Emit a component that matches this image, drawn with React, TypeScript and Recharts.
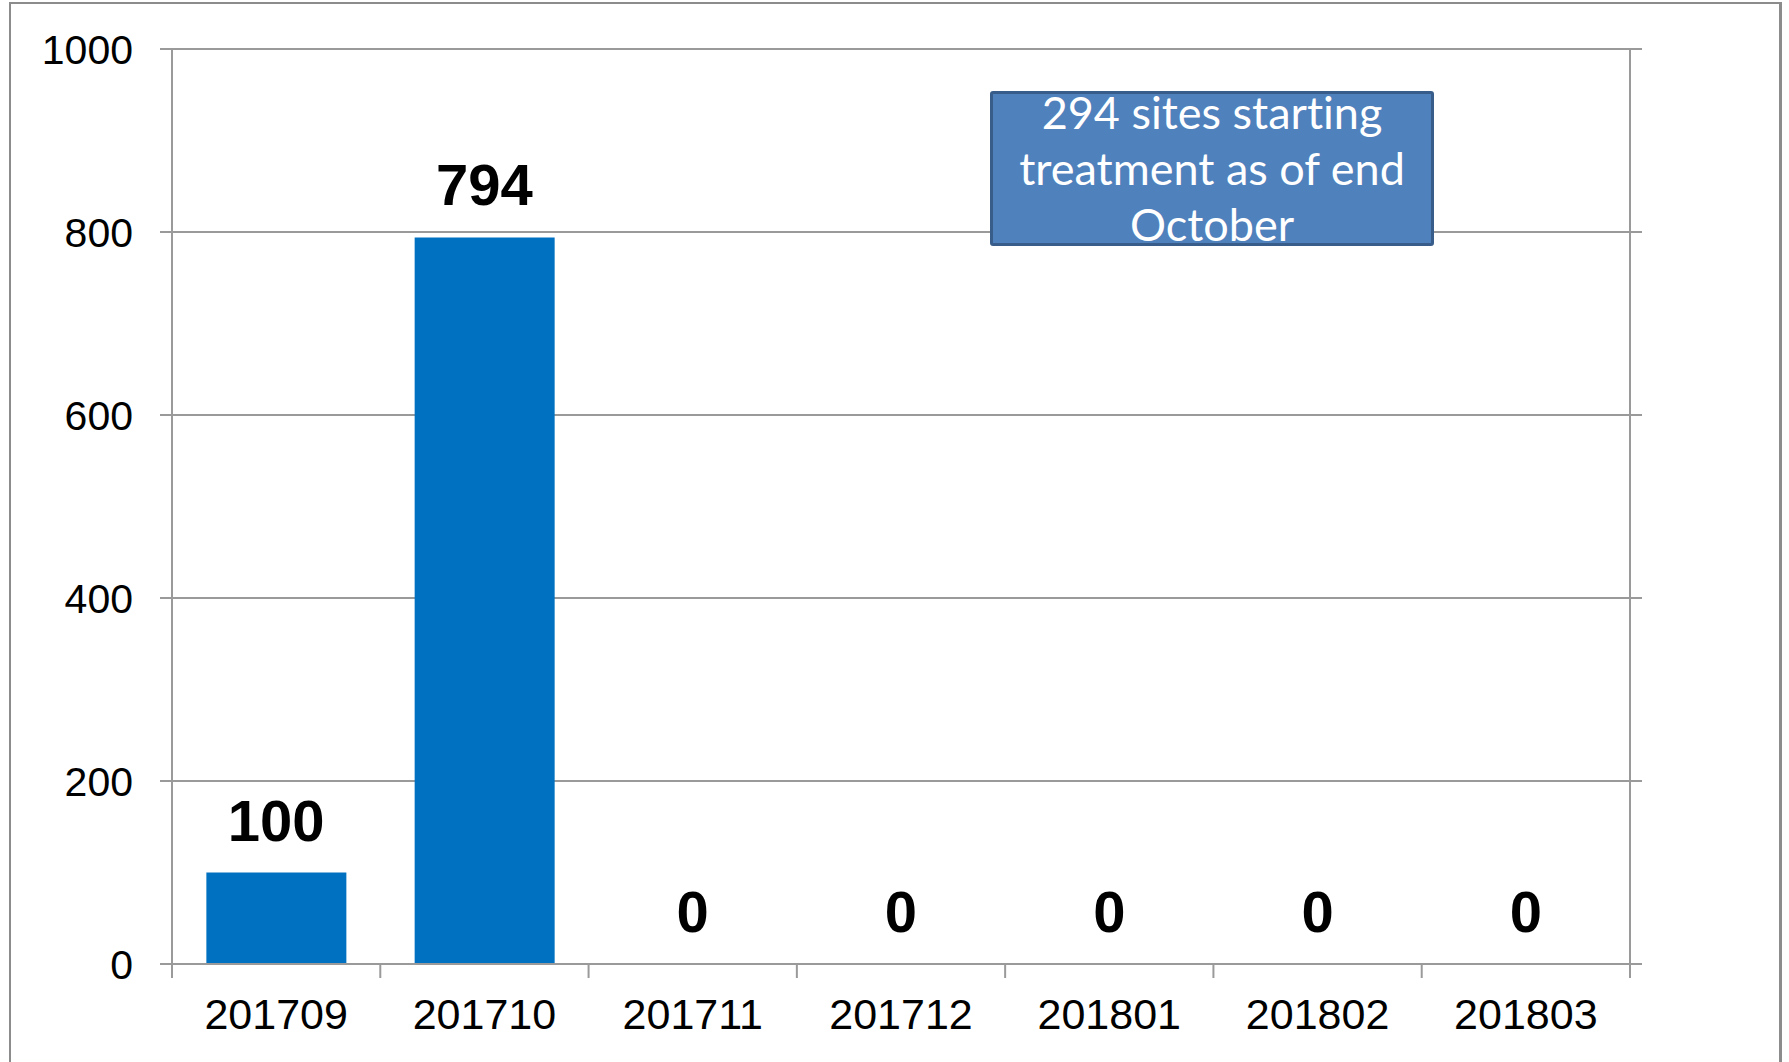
import { Bar, CartesianGrid, ComposedChart, LabelList, Line, XAxis, YAxis } from "recharts";

const months = ["201709", "201710", "201711", "201712", "201801", "201802", "201803"];
const sites = [100, 794, 0, 0, 0, 0, 0];
const yTicks = [0, 200, 400, 600, 800, 1000];
const note = ["294 sites starting", "treatment as of end", "October"];

const data = months.map((month, i) => ({ month, sites: sites[i] }));

const grey = "#9a9a9a";
const axisFont = "'Liberation Sans', Arial, sans-serif";

// value labels sit on an invisible line so the zero months get one too
function ValueLabel(props: any) {
  const { x, y, value } = props;
  return (
    <text
      x={x}
      y={y - 32}
      textAnchor="middle"
      fontFamily={axisFont}
      fontWeight="bold"
      fontSize={58}
      fill="#000"
    >
      {value}
    </text>
  );
}

// month label plus the tick marks on the category boundaries (Excel style)
function MonthTick(props: any) {
  const { x, y, payload, index, visibleTicksCount, width } = props;
  const band = payload && payload.offset ? payload.offset * 2 : width / visibleTicksCount;
  const left = x - band / 2;
  const right = x + band / 2;
  return (
    <g>
      <line x1={left} x2={left} y1={y - 34} y2={y - 20} stroke={grey} strokeWidth={2} />
      {index === visibleTicksCount - 1 && (
        <line x1={right} x2={right} y1={y - 34} y2={y - 20} stroke={grey} strokeWidth={2} />
      )}
      <text
        x={x}
        y={y}
        dy={31}
        textAnchor="middle"
        fontFamily={axisFont}
        fontSize={43}
        fill="#000"
      >
        {payload.value}
      </text>
    </g>
  );
}

const EmptyTick = () => <g />;

export default function App() {
  return (
    <div
      style={{
        position: "absolute",
        left: 0,
        top: 0,
        width: 1789,
        height: 1062,
        background: "#fff",
        overflow: "hidden",
      }}
    >
      <div
        style={{
          position: "absolute",
          left: 9,
          top: 2,
          width: 1773,
          height: 1100,
          borderLeft: "2px solid #8c8c8c",
          borderTop: "2px solid #8c8c8c",
          borderRight: "3px solid #8c8c8c",
          boxSizing: "border-box",
        }}
      />
      <div style={{ position: "absolute", left: 0, top: 0 }}>
        <ComposedChart
          width={1789}
          height={1062}
          data={data}
          margin={{ top: 49, right: 147, bottom: 0, left: 12 }}
          barCategoryGap="16.5%"
        >
          <CartesianGrid horizontal vertical={false} stroke={grey} strokeWidth={2} />
          <XAxis
            dataKey="month"
            height={98}
            axisLine={{ stroke: grey, strokeWidth: 2 }}
            tickLine={false}
            tickSize={0}
            tickMargin={34}
            interval={0}
            tick={MonthTick}
          />
          <YAxis
            domain={[0, 1000]}
            ticks={yTicks}
            width={160}
            tickSize={12}
            tickMargin={27}
            axisLine={{ stroke: grey, strokeWidth: 2 }}
            tickLine={{ stroke: grey, strokeWidth: 2 }}
            tick={{ fontFamily: axisFont, fontSize: 41, fill: "#000" }}
          />
          <YAxis
            yAxisId="right"
            orientation="right"
            domain={[0, 1000]}
            ticks={yTicks}
            width={12}
            tickSize={12}
            interval={0}
            axisLine={{ stroke: grey, strokeWidth: 2 }}
            tickLine={{ stroke: grey, strokeWidth: 2 }}
            tick={EmptyTick}
          />
          <Bar dataKey="sites" fill="#0070C0" isAnimationActive={false} />
          <Line
            yAxisId="right"
            dataKey="sites"
            stroke="none"
            dot={false}
            activeDot={false}
            isAnimationActive={false}
          >
            <LabelList dataKey="sites" content={ValueLabel} />
          </Line>
        </ComposedChart>
      </div>
      <div
        style={{
          position: "absolute",
          left: 990,
          top: 91,
          width: 444,
          height: 155,
          background: "#4F81BD",
          border: "3px solid #385D8A",
          borderRadius: 3,
          boxSizing: "border-box",
          overflow: "visible",
        }}
      >
        <div
          style={{
            marginTop: -10,
            marginLeft: -10,
            marginRight: -10,
            textAlign: "center",
            color: "#fff",
            fontFamily: "Lato, 'Open Sans', sans-serif",
            fontSize: 45,
            lineHeight: "56px",
            fontVariantLigatures: "none",
            whiteSpace: "nowrap",
          }}
        >
          {note.map((line) => (
            <div key={line}>{line}</div>
          ))}
        </div>
      </div>
    </div>
  );
}
